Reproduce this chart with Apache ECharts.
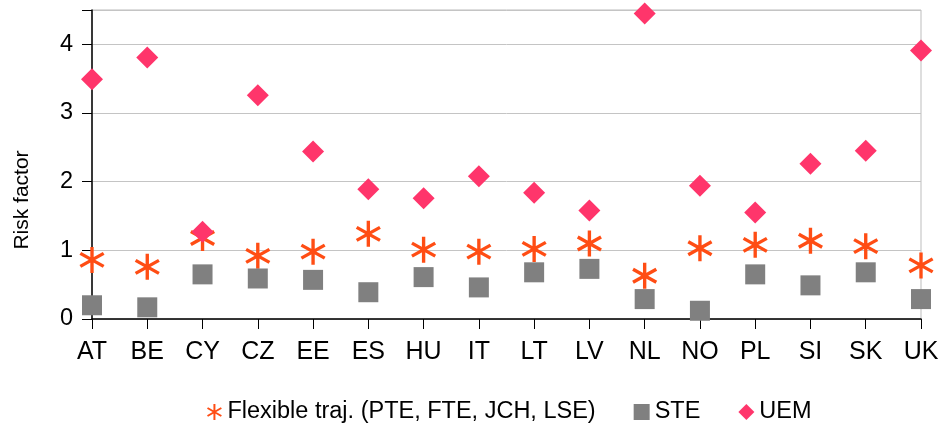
<!DOCTYPE html>
<html>
<head>
<meta charset="utf-8">
<script src="https://cdn.jsdelivr.net/npm/echarts@6/dist/echarts.min.js"></script>
<style>
  html, body { margin: 0; padding: 0; background: #fff; }
  #chart { width: 946px; height: 424px; }
</style>
</head>
<body>
<div id="chart"></div>
<script>
// categories (countries)
const countries = ['AT', 'BE', 'CY', 'CZ', 'EE', 'ES', 'HU', 'IT', 'LT', 'LV', 'NL', 'NO', 'PL', 'SI', 'SK', 'UK'];
// series values
const flexible = [0.86, 0.76, 1.18, 0.92, 0.98, 1.24, 1.01, 0.98, 1.02, 1.10, 0.63, 1.03, 1.08, 1.14, 1.06, 0.78];
const ste = [0.20, 0.17, 0.65, 0.59, 0.57, 0.39, 0.61, 0.46, 0.68, 0.73, 0.29, 0.12, 0.65, 0.49, 0.68, 0.29];
const uem = [3.49, 3.81, 1.27, 3.26, 2.44, 1.89, 1.76, 2.08, 1.84, 1.58, 4.45, 1.94, 1.55, 2.26, 2.45, 3.91];
const yTicks = [0, 1, 2, 3, 4];

const seriesNames = ['Flexible traj. (PTE, FTE, JCH, LSE)', 'STE', 'UEM'];
const FONT = '"Liberation Sans", Arial, sans-serif';

// six armed asterisk made of three thin bars
const asterisk = 'path://M13.5,0 L10.5,0 L10.5,24 L13.5,24 Z ' +
  'M2.36,4.70 L0.86,7.30 L21.64,19.30 L23.14,16.70 Z ' +
  'M23.14,7.30 L21.64,4.70 L0.86,16.70 L2.36,19.30 Z';

const chart = echarts.init(document.getElementById('chart'), null, {renderer: 'canvas'});

let option = {
  backgroundColor: '#fff',
  animation: false,
  textStyle: {fontFamily: FONT},
  grid: {
    left: 92,
    right: 25,
    top: 10,
    bottom: 105,
    show: true,
    borderColor: '#bdbdbd',
    borderWidth: 1
  },
  legend: {
    top: 395,
    left: 202,
    itemGap: 38,
    itemWidth: 16,
    itemHeight: 16,
    textStyle: {fontSize: 23.5, color: '#000', fontFamily: FONT},
    data: seriesNames
  },
  graphic: [{
    type: 'text',
    x: 22,
    y: 200,
    rotation: Math.PI / 2,
    style: {
      text: 'Risk factor',
      font: '21px ' + FONT,
      fill: '#000',
      align: 'center',
      verticalAlign: 'middle'
    }
  }],
  xAxis: {
    type: 'category',
    data: countries,
    boundaryGap: false,
    axisLine: {show: true, lineStyle: {color: '#000', width: 1.5}},
    axisTick: {show: true, length: 10, lineStyle: {color: '#000', width: 1}},
    axisLabel: {color: '#000', fontSize: 25, margin: 21, interval: 0, fontFamily: FONT},
    splitLine: {show: false}
  },
  yAxis: {
    type: 'value',
    min: 0,
    max: 4.5,
    interval: 1,
    axisLine: {show: true, lineStyle: {color: '#000', width: 1.5}},
    axisTick: {show: true, length: 10, lineStyle: {color: '#000', width: 1}},
    axisLabel: {
      color: '#000', fontSize: 23.5, margin: 19, fontFamily: FONT,
      formatter: function (v) { return yTicks.indexOf(v) >= 0 ? String(v) : ''; }
    },
    splitLine: {show: true, lineStyle: {color: '#c4c4c4', width: 1}}
  },
  series: [
    {
      name: seriesNames[0],
      type: 'scatter',
      data: flexible,
      symbol: asterisk,
      symbolSize: [25, 26],
      itemStyle: {color: '#ff4d14', opacity: 1}
    },
    {
      name: seriesNames[1],
      type: 'scatter',
      data: ste,
      symbol: 'rect',
      symbolSize: 20,
      itemStyle: {color: '#808080', opacity: 1}
    },
    {
      name: seriesNames[2],
      type: 'scatter',
      data: uem,
      symbol: 'diamond',
      symbolSize: 22,
      itemStyle: {color: '#ff356b', opacity: 1}
    }
  ]
};

chart.setOption(option);
</script>
</body>
</html>
